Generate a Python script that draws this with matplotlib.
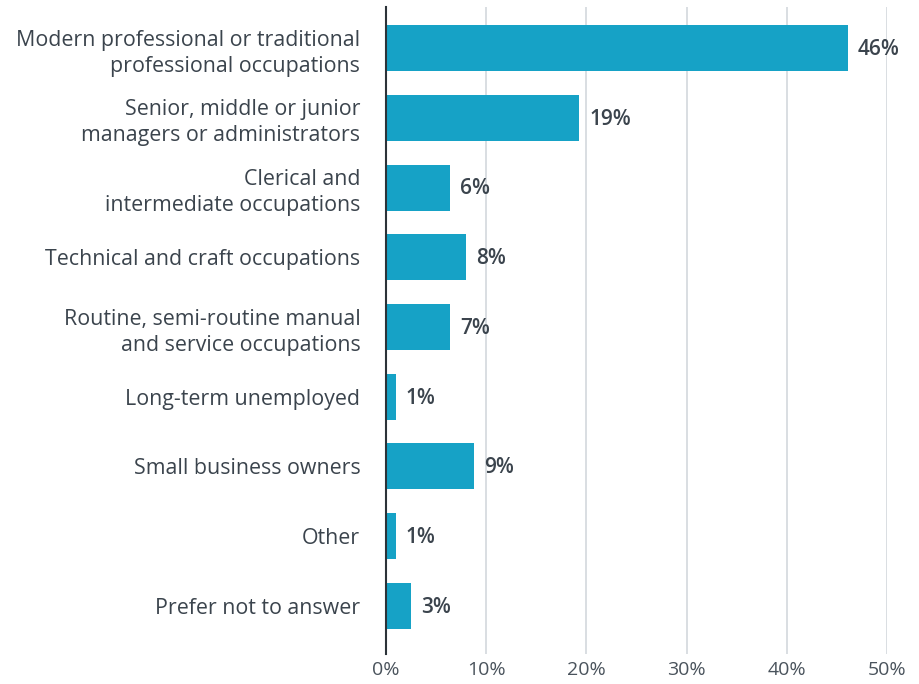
import matplotlib
matplotlib.use("Agg")
import matplotlib.pyplot as plt
from matplotlib.ticker import FuncFormatter

# Datos
categories = [
    "Modern professional or traditional\nprofessional occupations",
    "Senior, middle or junior\nmanagers or administrators",
    "Clerical and\nintermediate occupations",
    "Technical and craft occupations",
    "Routine, semi-routine manual\nand service occupations",
    "Long-term unemployed",
    "Small business owners",
    "Other",
    "Prefer not to answer",
]
values = [46.1, 19.3, 6.4, 8.0, 6.4, 1.0, 8.8, 1.0, 2.5]
value_labels = ["46%", "19%", "6%", "8%", "7%", "1%", "9%", "1%", "3%"]
x_ticks = [0, 10, 20, 30, 40, 50]

bar_color = "#16a2c6"
text_color = "#3b444d"

plt.rcParams["font.family"] = ["Open Sans", "DejaVu Sans"]

fig = plt.figure(figsize=(9.2, 6.84), dpi=100)
ax = fig.add_axes([386 / 920, 1 - 654 / 684, (887 - 386) / 920, (654 - 7) / 684])

y = list(range(len(categories)))
bars = ax.barh(y, values, height=0.66, color=bar_color, zorder=3)

# etiquetas de valor al final de cada barra
for bar, txt in zip(bars, value_labels):
    ax.annotate(txt, xy=(bar.get_width(), bar.get_y() + bar.get_height() / 2),
                xytext=(7, -1), textcoords="offset points",
                ha="left", va="center", fontsize=15, fontweight="semibold",
                color=text_color, zorder=4)

ax.set_xlim(0, 50)
ax.set_ylim(len(categories) - 1 + 0.69, -0.59)
ax.set_xticks(x_ticks)
ax.xaxis.set_major_formatter(FuncFormatter(lambda v, p: f"{v:.0f}%"))
ax.set_yticks(y)
ax.set_yticklabels(categories, fontsize=15.4, color=text_color, linespacing=1.32)
ax.tick_params(axis="y", length=0, pad=18.5)
ax.tick_params(axis="x", length=0, pad=5, labelsize=14, labelcolor="#4a535c")

ax.grid(axis="x", color="#d3d8dd", linewidth=1.2, zorder=0)
for s in ["top", "right", "bottom"]:
    ax.spines[s].set_visible(False)
ax.spines["left"].set_color("#2c3339")
ax.spines["left"].set_linewidth(1.5)
ax.spines["left"].set_zorder(5)

fig.savefig("out.png", dpi=100)
